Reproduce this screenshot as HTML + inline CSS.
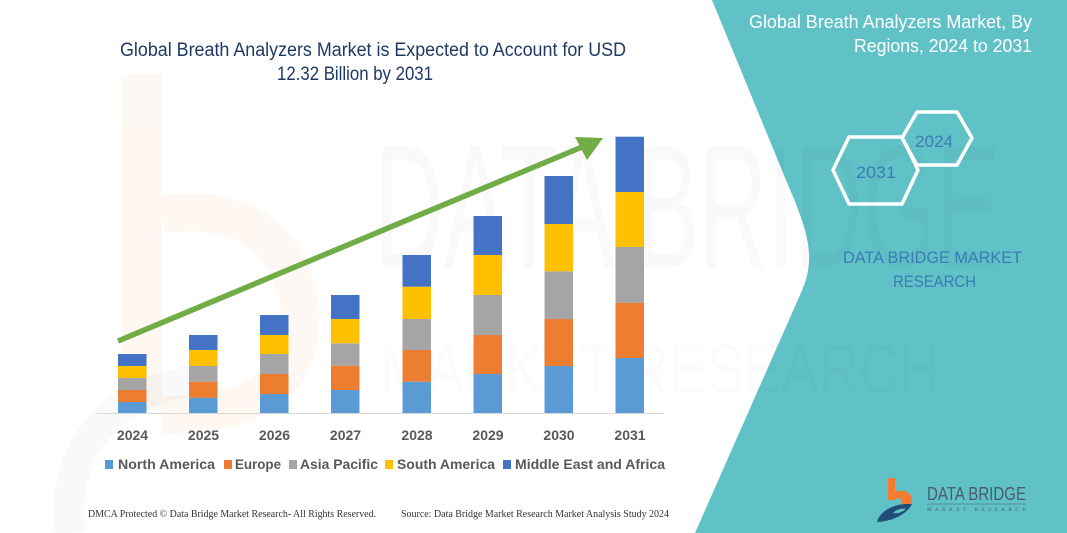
<!DOCTYPE html>
<html>
<head>
<meta charset="utf-8">
<style>
  html,body{margin:0;padding:0;background:#fff;}
  svg{display:block;}
  text{font-family:"Liberation Sans",sans-serif;}
  .serif{font-family:"Liberation Serif",serif;}
</style>
</head>
<body>
<svg width="1067" height="533" viewBox="0 0 1067 533" xmlns="http://www.w3.org/2000/svg">
  <rect x="0" y="0" width="1067" height="533" fill="#ffffff"/>

  <!-- faint watermark logo (left) -->
  <g opacity="0.05">
    <rect x="122" y="75" width="40" height="335" fill="#f4761f"/>
    <path d="M162 215 C 260 200 300 260 300 320 C 300 380 260 415 162 415" fill="none" stroke="#f4761f" stroke-width="38"/>
  </g>
  <g opacity="0.035">
    <path d="M70 533 C 60 450 110 390 200 380" fill="none" stroke="#1f4e79" stroke-width="30"/>
  </g>

  <!-- teal right panel -->
  <path d="M712 0 L788 185 C 812 240 815 262 800 295 L695 533 L1067 533 L1067 0 Z" fill="#60c2c7"/>

  <!-- faint big watermark text -->
  <text x="375" y="267" font-size="175" fill="#000" opacity="0.018" textLength="625" lengthAdjust="spacingAndGlyphs">DATA BRIDGE</text>
  <text x="380" y="393" font-size="70" fill="#000" opacity="0.012" textLength="560" lengthAdjust="spacingAndGlyphs">MARKET RESEARCH</text>

  <!-- left title -->
  <text x="120" y="56" font-size="19" fill="#203864" textLength="506" lengthAdjust="spacingAndGlyphs">Global Breath Analyzers Market is Expected to Account for USD</text>
  <text x="277" y="80" font-size="19" fill="#203864" textLength="156" lengthAdjust="spacingAndGlyphs">12.32 Billion by 2031</text>

  <!-- axis -->
  <line x1="97" y1="413.5" x2="664" y2="413.5" stroke="#d9d9d9" stroke-width="1"/>

  <!-- bars -->
  <g>
    <rect x="118" y="402" width="28.5" height="11" fill="#5b9bd5"/>
    <rect x="118" y="390" width="28.5" height="12" fill="#ed7d31"/>
    <rect x="118" y="378" width="28.5" height="12" fill="#a5a5a5"/>
    <rect x="118" y="366" width="28.5" height="12" fill="#ffc000"/>
    <rect x="118" y="354" width="28.5" height="12" fill="#4472c4"/>

    <rect x="189" y="397.7" width="28.5" height="15.3" fill="#5b9bd5"/>
    <rect x="189" y="381.7" width="28.5" height="16" fill="#ed7d31"/>
    <rect x="189" y="366" width="28.5" height="15.7" fill="#a5a5a5"/>
    <rect x="189" y="350" width="28.5" height="16" fill="#ffc000"/>
    <rect x="189" y="335" width="28.5" height="15" fill="#4472c4"/>

    <rect x="260" y="394" width="28.5" height="19" fill="#5b9bd5"/>
    <rect x="260" y="374" width="28.5" height="20" fill="#ed7d31"/>
    <rect x="260" y="354" width="28.5" height="20" fill="#a5a5a5"/>
    <rect x="260" y="335" width="28.5" height="19" fill="#ffc000"/>
    <rect x="260" y="315" width="28.5" height="20" fill="#4472c4"/>

    <rect x="331" y="390" width="28.5" height="23" fill="#5b9bd5"/>
    <rect x="331" y="365.7" width="28.5" height="24.3" fill="#ed7d31"/>
    <rect x="331" y="343.3" width="28.5" height="22.4" fill="#a5a5a5"/>
    <rect x="331" y="319" width="28.5" height="24.3" fill="#ffc000"/>
    <rect x="331" y="295" width="28.5" height="24" fill="#4472c4"/>

    <rect x="402.5" y="381.7" width="28.5" height="31.3" fill="#5b9bd5"/>
    <rect x="402.5" y="350" width="28.5" height="31.7" fill="#ed7d31"/>
    <rect x="402.5" y="319" width="28.5" height="31" fill="#a5a5a5"/>
    <rect x="402.5" y="286.7" width="28.5" height="32.3" fill="#ffc000"/>
    <rect x="402.5" y="255" width="28.5" height="31.7" fill="#4472c4"/>

    <rect x="473.5" y="374" width="28.5" height="39" fill="#5b9bd5"/>
    <rect x="473.5" y="335" width="28.5" height="39" fill="#ed7d31"/>
    <rect x="473.5" y="295" width="28.5" height="40" fill="#a5a5a5"/>
    <rect x="473.5" y="255" width="28.5" height="40" fill="#ffc000"/>
    <rect x="473.5" y="216" width="28.5" height="39" fill="#4472c4"/>

    <rect x="544.5" y="366" width="28.5" height="47" fill="#5b9bd5"/>
    <rect x="544.5" y="319" width="28.5" height="47" fill="#ed7d31"/>
    <rect x="544.5" y="271.3" width="28.5" height="47.7" fill="#a5a5a5"/>
    <rect x="544.5" y="224" width="28.5" height="47.3" fill="#ffc000"/>
    <rect x="544.5" y="176" width="28.5" height="48" fill="#4472c4"/>

    <rect x="615.5" y="358" width="28.5" height="55" fill="#5b9bd5"/>
    <rect x="615.5" y="302.7" width="28.5" height="55.3" fill="#ed7d31"/>
    <rect x="615.5" y="247" width="28.5" height="55.7" fill="#a5a5a5"/>
    <rect x="615.5" y="192" width="28.5" height="55" fill="#ffc000"/>
    <rect x="615.5" y="136.7" width="28.5" height="55.3" fill="#4472c4"/>
  </g>

  <!-- arrow -->
  <line x1="118" y1="341" x2="582" y2="147" stroke="#70ad47" stroke-width="5.5"/>
  <polygon points="603,138 575,137 587,160" fill="#70ad47"/>

  <!-- year labels -->
  <g font-size="14" font-weight="bold" fill="#595959" text-anchor="middle">
    <text x="132.5" y="440">2024</text>
    <text x="203.5" y="440">2025</text>
    <text x="274.5" y="440">2026</text>
    <text x="345.5" y="440">2027</text>
    <text x="417" y="440">2028</text>
    <text x="488" y="440">2029</text>
    <text x="559" y="440">2030</text>
    <text x="630" y="440">2031</text>
  </g>

  <!-- legend -->
  <g>
    <rect x="105" y="460" width="8" height="9" fill="#5b9bd5"/>
    <rect x="224" y="460" width="8" height="9" fill="#ed7d31"/>
    <rect x="289" y="460" width="8" height="9" fill="#a5a5a5"/>
    <rect x="385" y="460" width="8" height="9" fill="#ffc000"/>
    <rect x="503" y="460" width="8" height="9" fill="#4472c4"/>
  </g>
  <g font-size="14" font-weight="bold" fill="#595959">
    <text x="118" y="469" textLength="97" lengthAdjust="spacingAndGlyphs">North America</text>
    <text x="235" y="469" textLength="46" lengthAdjust="spacingAndGlyphs">Europe</text>
    <text x="300" y="469" textLength="78" lengthAdjust="spacingAndGlyphs">Asia Pacific</text>
    <text x="397" y="469" textLength="98" lengthAdjust="spacingAndGlyphs">South America</text>
    <text x="515" y="469" textLength="150" lengthAdjust="spacingAndGlyphs">Middle East and Africa</text>
  </g>

  <!-- footer -->
  <text class="serif" x="88" y="517" font-size="10" fill="#333" textLength="288" lengthAdjust="spacingAndGlyphs">DMCA Protected © Data Bridge Market Research-  All Rights Reserved.</text>
  <text class="serif" x="401" y="517" font-size="10" fill="#333" textLength="268" lengthAdjust="spacingAndGlyphs">Source: Data Bridge Market Research  Market Analysis Study 2024</text>

  <!-- right panel title -->
  <text x="749" y="28" font-size="18" fill="#ffffff" textLength="283" lengthAdjust="spacingAndGlyphs">Global Breath Analyzers Market, By</text>
  <text x="854" y="52" font-size="18" fill="#ffffff" textLength="178" lengthAdjust="spacingAndGlyphs">Regions, 2024 to 2031</text>

  <!-- hexagons -->
  <polygon points="902,138 917,112 957,112 972,138 957,165 917,165" fill="none" stroke="#ffffff" stroke-width="3.5" stroke-linejoin="round"/>
  <polygon points="833,170 849,137 902,137 918,170 902,204 849,204" fill="none" stroke="#ffffff" stroke-width="3.5" stroke-linejoin="round"/>
  <text x="915" y="147" font-size="17" fill="#3a7cb4" textLength="38" lengthAdjust="spacingAndGlyphs">2024</text>
  <text x="856" y="178" font-size="17" fill="#3a7cb4" textLength="40" lengthAdjust="spacingAndGlyphs">2031</text>

  <!-- DBMR text -->
  <text x="843" y="263" font-size="17" fill="#3a7cb4" textLength="179" lengthAdjust="spacingAndGlyphs">DATA BRIDGE MARKET</text>
  <text x="893" y="287" font-size="17" fill="#3a7cb4" textLength="83" lengthAdjust="spacingAndGlyphs">RESEARCH</text>

  <!-- logo -->
  <g>
    <rect x="888" y="478" width="7" height="22" fill="#f47c30"/>
    <path d="M888 500 L888 494 C 898 488 912 490 912 500 C 912 503 910 505 906 506 L 900 506 C 903 503 903 498 895 498 Z" fill="#f47c30"/>
    <path d="M877 522 C 880 510 896 503 912 504 C 908 512 896 521 877 522 Z" fill="#1f4e79"/>
    <path d="M893 513 C 897 509 903 508 906 509 C 902 512 898 514 893 513 Z" fill="#60c2c7"/>
  </g>
  <text x="927" y="500" font-size="18" fill="#4d5b6b" textLength="99" lengthAdjust="spacingAndGlyphs">DATA BRIDGE</text>
  <line x1="927" y1="504" x2="1026" y2="504" stroke="#4d5b6b" stroke-width="0.6"/>
  <text class="serif" x="927" y="511" font-size="5" fill="#4d5b6b" textLength="99" lengthAdjust="spacing">MARKET RESEARCH</text>
</svg>
</body>
</html>
